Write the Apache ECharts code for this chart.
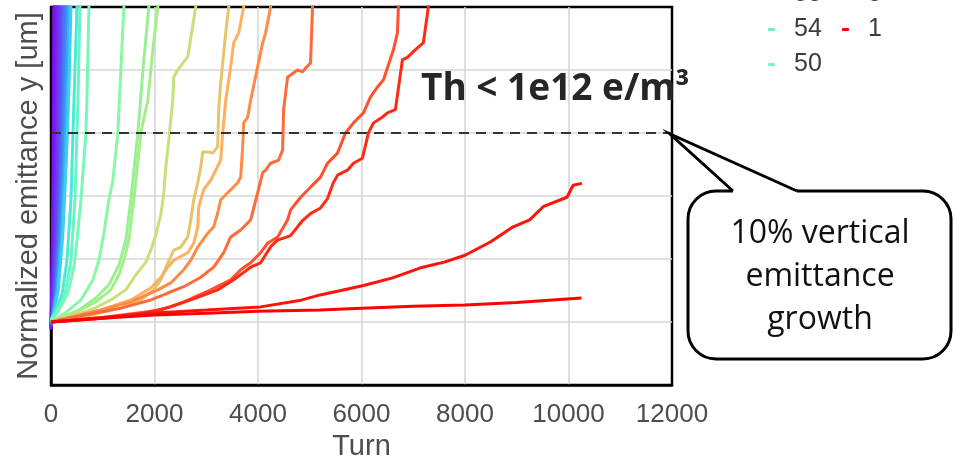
<!DOCTYPE html>
<html>
<head>
<meta charset="utf-8">
<script src="https://cdn.jsdelivr.net/npm/echarts@6/dist/echarts.min.js"></script>
<style>
  html, body { margin: 0; padding: 0; background: #fff; }
  #chart { width: 955px; height: 458px; }
</style>
</head>
<body>
<div id="chart"></div>
<script>
// axis ranges
const X_MAX = 12000
const X_STEP = 2000
const Y_MAX = 6
const THRESHOLD = 4

// [turn, normalized emittance], fastest (violet) to slowest (red)
const S102 = [[0, 0.88], [10, 1.4], [20, 2.0], [35, 3.0], [45, 4.2], [52, 5.1], [58, 6.0], [62, 6.4]]
const S98 = [[0, 0.9], [12, 1.3], [25, 1.8], [45, 2.8], [60, 4.0], [70, 5.0], [77, 6.0], [82, 6.4]]
const S94 = [[0, 0.92], [15, 1.3], [30, 1.8], [55, 2.8], [75, 4.0], [88, 5.0], [96, 6.0], [100, 6.4]]
const S90 = [[0, 0.93], [20, 1.2], [45, 1.6], [75, 2.5], [105, 3.7], [122, 4.9], [135, 6.0], [140, 6.4]]
const S86 = [[0, 0.94], [25, 1.2], [50, 1.6], [85, 2.5], [120, 3.7], [140, 4.9], [154, 6.0], [160, 6.4]]
const S82 = [[0, 0.95], [30, 1.2], [65, 1.6], [110, 2.5], [150, 3.7], [175, 4.9], [193, 6.0], [200, 6.4]]
const S78 = [[0, 0.96], [35, 1.15], [75, 1.5], [130, 2.4], [180, 3.6], [210, 4.8], [231, 6.0], [238, 6.4]]
const S74 = [[0, 0.97], [40, 1.15], [90, 1.5], [155, 2.4], [210, 3.6], [245, 4.8], [270, 6.0], [277, 6.4]]
const S70 = [[0, 0.98], [45, 1.15], [105, 1.5], [180, 2.4], [240, 3.6], [280, 4.8], [309, 6.0], [316, 6.4]]
const S66 = [[0, 1.0], [50, 1.15], [120, 1.5], [200, 2.4], [270, 3.6], [315, 4.8], [347, 6.0], [354, 6.4]]
const S62 = [[0, 1.0], [60, 1.15], [140, 1.5], [230, 2.4], [300, 3.6], [350, 4.8], [386, 6.0], [393, 6.4]]
const S58 = [[0, 1.03], [77, 1.16], [212, 1.43], [309, 1.98], [386, 2.94], [444, 4.52], [502, 6.0], [508, 6.4]]
const S54 = [[0, 1.03], [116, 1.16], [270, 1.43], [386, 1.98], [463, 2.94], [521, 4.52], [559, 6.0], [565, 6.4]]
const S50 = [[0, 1.03], [154, 1.19], [328, 1.46], [444, 1.87], [502, 2.3], [579, 2.94], [675, 4.0], [694, 4.52], [733, 6.0], [740, 6.4]]
const S46 = [[0, 1.0], [251, 1.13], [579, 1.35], [810, 1.67], [926, 1.98], [1022, 2.41], [1119, 2.94], [1196, 3.25], [1292, 4.0], [1350, 5.0], [1408, 6.0], [1420, 6.4]]
const S42 = [[0, 1.0], [540, 1.19], [868, 1.38], [1119, 1.59], [1312, 1.9], [1447, 2.3], [1543, 2.94], [1678, 4.0], [1794, 5.16], [1890, 6.0], [1905, 6.4]]
const S37 = [[0, 1.0], [482, 1.16], [868, 1.32], [1157, 1.51], [1312, 1.75], [1408, 1.98], [1505, 2.3], [1601, 2.94], [1736, 4.0], [1871, 4.52], [1968, 5.32], [2064, 6.0], [2080, 6.4]]
const S33 = [[0, 1.0], [386, 1.1], [772, 1.19], [1157, 1.35], [1447, 1.51], [1640, 1.75], [1833, 1.95], [1929, 2.14], [2025, 2.38], [2122, 2.7], [2180, 3.05], [2218, 3.46], [2276, 3.89], [2353, 4.52], [2373, 4.89], [2450, 5.0], [2546, 5.11], [2643, 5.21], [2797, 6.0], [2820, 6.4]]
const S29 = [[0, 1.0], [772, 1.11], [1350, 1.22], [1736, 1.35], [1987, 1.51], [2122, 1.67], [2257, 1.94], [2373, 2.14], [2508, 2.19], [2643, 2.35], [2701, 2.62], [2758, 2.94], [2836, 3.21], [2894, 3.46], [2932, 3.7], [3029, 3.7], [3125, 3.68], [3221, 3.78], [3241, 4.37], [3279, 4.79], [3376, 5.59], [3434, 6.0], [3450, 6.4]]
const S25 = [[0, 1.0], [965, 1.19], [1543, 1.35], [1929, 1.54], [2122, 1.71], [2257, 1.87], [2373, 1.98], [2643, 2.1], [2758, 2.25], [2836, 2.51], [2855, 2.83], [2951, 3.1], [3086, 3.25], [3183, 3.41], [3279, 3.57], [3318, 4.0], [3376, 4.52], [3472, 5.05], [3530, 5.43], [3627, 5.59], [3723, 6.0], [3740, 6.4]]
const S21 = [[0, 1.0], [965, 1.19], [1543, 1.32], [2064, 1.51], [2315, 1.62], [2566, 1.83], [2701, 1.98], [2836, 2.19], [3029, 2.41], [3144, 2.51], [3221, 2.73], [3279, 2.94], [3472, 3.1], [3607, 3.21], [3665, 3.3], [3704, 3.78], [3723, 4.16], [3800, 4.25], [3858, 4.52], [3993, 5.05], [4090, 5.43], [4147, 5.59], [4244, 6.0], [4260, 6.4]]
const S17 = [[0, 1.0], [579, 1.1], [1350, 1.22], [1929, 1.35], [2257, 1.46], [2566, 1.56], [2894, 1.71], [3144, 1.87], [3337, 2.1], [3472, 2.35], [3665, 2.46], [3858, 2.62], [3993, 3.05], [4090, 3.37], [4147, 3.41], [4244, 3.52], [4398, 3.57], [4475, 3.73], [4495, 4.37], [4572, 4.89], [4630, 4.92], [4765, 5.0], [4861, 4.97], [4919, 5.03], [5015, 5.11], [5054, 6.0], [5060, 6.4]]
const S13 = [[0, 1.0], [1000, 1.07], [2120, 1.19], [2566, 1.32], [3086, 1.51], [3472, 1.67], [3665, 1.83], [3858, 1.94], [4051, 2.1], [4186, 2.25], [4379, 2.35], [4572, 2.62], [4630, 2.78], [4823, 2.98], [5015, 3.14], [5208, 3.3], [5343, 3.52], [5536, 3.68], [5691, 4.0], [5845, 4.16], [6038, 4.32], [6173, 4.57], [6308, 4.73], [6424, 4.84], [6617, 5.32], [6694, 5.59], [6713, 6.0], [6720, 6.4]]
const S9 = [[0, 1.0], [1000, 1.06], [1800, 1.14], [2315, 1.24], [2700, 1.35], [3221, 1.51], [3530, 1.67], [3858, 1.87], [4051, 1.94], [4250, 2.2], [4379, 2.3], [4630, 2.37], [4850, 2.6], [5015, 2.72], [5208, 2.81], [5343, 2.96], [5450, 3.2], [5536, 3.33], [5729, 3.41], [5845, 3.52], [6018, 3.6], [6134, 4.0], [6231, 4.16], [6400, 4.25], [6501, 4.32], [6655, 4.37], [6790, 5.16], [6887, 5.2], [7080, 5.35], [7195, 5.43], [7292, 6.0], [7330, 6.4]]
const S5 = [[0, 1.0], [1000, 1.07], [1930, 1.14], [3000, 1.19], [4050, 1.24], [4800, 1.34], [5200, 1.43], [5600, 1.5], [6040, 1.58], [6600, 1.7], [7140, 1.86], [7600, 1.95], [8000, 2.06], [8490, 2.27], [8930, 2.51], [9250, 2.62], [9510, 2.83], [9970, 2.98], [10090, 3.17], [10260, 3.2]]
const S1 = [[0, 1.0], [1000, 1.06], [2000, 1.11], [3000, 1.14], [4000, 1.17], [5200, 1.19], [6000, 1.22], [7000, 1.25], [8000, 1.27], [9000, 1.31], [10250, 1.38]]

const SERIES_NAMES = ['102', '98', '94', '90', '86', '82', '78', '74', '70', '66', '62', '58', '54', '50', '46', '42', '37', '33', '29', '25', '21', '17', '13', '9', '5', '1']
const SERIES_DATA = [S102, S98, S94, S90, S86, S82, S78, S74, S70, S66, S62, S58, S54, S50, S46, S42, S37, S33, S29, S25, S21, S17, S13, S9, S5, S1]
const COLORS = [
  '#8800ff', '#8010f0', '#7c18f4', '#7428f4', '#6c38f4', '#6048f4', '#5460f4', '#4878f4', '#3c90f4', '#36b0f4',
  '#3cd0ec', '#4ce8d8', '#68f4c4', '#78f8b8', '#88f8a6', '#98f096', '#a4ee88', '#c8e07a', '#e6c46a', '#ffaf60',
  '#ff8a45', '#ff6a3a', '#ff5030', '#ff2a14', '#ff1208', '#ff0000',
]

const LEGEND_COL1 = ['58', '54', '50']
const LEGEND_COL2 = ['5', '1']

const chart = echarts.init(document.getElementById('chart'), null, { renderer: 'canvas' })

const axisFont = 'Liberation Sans, Arial, sans-serif'

const legendBase = {
  orient: 'vertical',
  top: -18,
  padding: 0,
  itemWidth: 7,
  itemHeight: 3,
  itemGap: 10,
  icon: 'roundRect',
  textStyle: {
    fontFamily: axisFont,
    fontSize: 25,
    lineHeight: 25,
    color: '#3c3c3c',
    padding: [0, 0, 0, 14],
  },
}

const series = SERIES_NAMES.map((name, i) => ({
  name,
  type: 'line',
  data: SERIES_DATA[i],
  showSymbol: false,
  color: COLORS[i],
  lineStyle: { width: 3, color: COLORS[i] },
  emphasis: { disabled: true },
}))

// 10% growth threshold
series[series.length - 1].markLine = {
  silent: true,
  symbol: ['none', 'none'],
  label: { show: false },
  lineStyle: { color: '#333', type: [10, 7], width: 2.2 },
  data: [{ yAxis: THRESHOLD }],
}

chart.setOption({
  animation: false,
  backgroundColor: '#fff',
  grid: {
    left: 51,
    right: 283,
    top: 7,
    bottom: 73,
    outerBoundsMode: 'none',
    show: true,
    borderColor: '#000',
    borderWidth: 2.5,
  },
  legend: [
    Object.assign({}, legendBase, { left: 768, data: LEGEND_COL1 }),
    Object.assign({}, legendBase, { left: 842, data: LEGEND_COL2 }),
  ],
  xAxis: {
    type: 'value',
    min: 0,
    max: X_MAX,
    interval: X_STEP,
    name: 'Turn',
    nameLocation: 'middle',
    nameGap: 47,
    nameTextStyle: { fontFamily: axisFont, fontSize: 29, color: '#4d4d4d' },
    axisLine: { lineStyle: { color: '#000', width: 2.5 } },
    axisTick: { show: false },
    axisLabel: { fontFamily: axisFont, fontSize: 26, color: '#4d4d4d', margin: 17, formatter: v => String(v) },
    splitLine: { showMinLine: false, showMaxLine: false, lineStyle: { color: '#d6d6d6', width: 1.6 } },
  },
  yAxis: {
    type: 'value',
    min: 0,
    max: Y_MAX,
    interval: 1,
    name: 'Normalized emittance y [um]',
    nameLocation: 'middle',
    nameGap: 8,
    nameTextStyle: { fontFamily: axisFont, fontSize: 29, color: '#4d4d4d' },
    axisLine: { show: true, lineStyle: { color: '#000', width: 2.5 } },
    axisTick: { show: false },
    axisLabel: { show: false },
    splitLine: { showMinLine: false, showMaxLine: false, lineStyle: { color: '#d6d6d6', width: 1.6 } },
  },
  graphic: [
    {
      type: 'text',
      x: 421,
      y: 71,
      z: 100,
      style: {
        text: 'Th < 1e12 e/m³',
        fontFamily: 'Open Sans, sans-serif',
        fontWeight: 'bold',
        fontSize: 37,
        fill: '#262626',
      },
    },
    {
      type: 'rect',
      z: 100,
      shape: { x: 688, y: 191, width: 263, height: 168, r: 28 },
      style: { fill: '#fff', stroke: '#000', lineWidth: 3 },
    },
    {
      type: 'polygon',
      z: 101,
      shape: { points: [[733, 194], [733, 191], [670, 134], [797, 191], [797, 194]] },
      style: { fill: '#fff', stroke: null },
    },
    {
      type: 'polyline',
      z: 102,
      shape: { points: [[733, 191], [670, 134], [797, 191]] },
      style: { stroke: '#000', lineWidth: 3, lineJoin: 'miter', fill: null },
    },
    {
      type: 'text',
      z: 103,
      x: 820,
      y: 277,
      style: {
        text: '10% vertical\nemittance\ngrowth',
        fontFamily: 'Open Sans, sans-serif',
        fontSize: 32,
        lineHeight: 43,
        fill: '#111',
        align: 'center',
        verticalAlign: 'middle',
      },
    },
  ],
  series,
})
</script>
</body>
</html>
